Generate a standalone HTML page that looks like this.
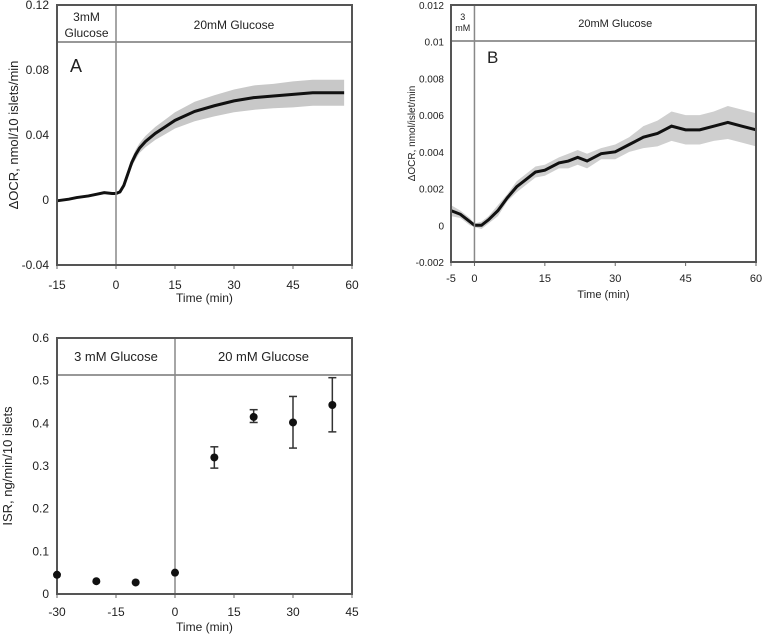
<!DOCTYPE html>
<html><head><meta charset="utf-8">
<style>
html,body{margin:0;padding:0;background:#fff;}
svg{display:block;font-family:"Liberation Sans",sans-serif;}
</style></head>
<body>
<svg id="fig" width="767" height="636" viewBox="0 0 767 636"></svg>
<script>
// Panel A data
const aTime = [-15,-12,-10,-7,-5,-3,-1,0,1,2,3,4,5,6,7.5,10,12.5,15,20,25,30,35,40,45,50,55,58];
const aMean = [-0.0005,0.0005,0.0015,0.0025,0.0035,0.0045,0.004,0.004,0.005,0.009,0.016,0.023,0.028,0.032,0.036,0.041,0.045,0.049,0.0545,0.058,0.061,0.063,0.064,0.065,0.066,0.066,0.066];
const aErr  = [0.0005,0.0005,0.0005,0.0005,0.0005,0.0005,0.0005,0.0005,0.001,0.0015,0.002,0.0025,0.003,0.003,0.0035,0.004,0.0045,0.005,0.006,0.0065,0.007,0.0075,0.0075,0.008,0.008,0.008,0.008];
const aYTicks = [0.12,0.08,0.04,0,-0.04];
const aYLabels = ["0.12","0.08","0.04","0","-0.04"];
const aXTicks = [-15,0,15,30,45,60];
// Panel B data
const bTime = [-5,-3,-1,0,1.5,3,5,7,9,11,13,15,18,20,22,24,27,30,33,36,39,42,45,48,51,54,57,60];
const bMean = [0.0008,0.0006,0.0002,0.0,0.0,0.0003,0.0008,0.0015,0.0021,0.0025,0.0029,0.003,0.0034,0.0035,0.0037,0.0035,0.0039,0.004,0.0044,0.0048,0.005,0.0054,0.0052,0.0052,0.0054,0.0056,0.0054,0.0052];
const bErr  = [0.0003,0.0002,0.0002,0.0001,0.0002,0.0002,0.0003,0.0002,0.0003,0.0003,0.0003,0.0003,0.0003,0.0004,0.0004,0.0004,0.0003,0.0004,0.0004,0.0006,0.0007,0.0008,0.0008,0.0008,0.0008,0.0009,0.0009,0.0009];
const bYTicks = [0.012,0.01,0.008,0.006,0.004,0.002,0,-0.002];
const bYLabels = ["0.012","0.01","0.008","0.006","0.004","0.002","0","-0.002"];
const bXTicks = [-5,0,15,30,45,60];
// Panel C data
const cTime = [-30,-20,-10,0,10,20,30,40];
const cMean = [0.045,0.03,0.027,0.05,0.32,0.415,0.402,0.443];
const cLow  = [0.045,0.03,0.027,0.05,0.295,0.402,0.342,0.38];
const cHigh = [0.045,0.03,0.027,0.05,0.345,0.432,0.463,0.507];
const cYTicks = [0.6,0.5,0.4,0.3,0.2,0.1,0];
const cYLabels = ["0.6","0.5","0.4","0.3","0.2","0.1","0"];
const cXTicks = [-30,-15,0,15,30,45];

const NS="http://www.w3.org/2000/svg";
const svg=document.getElementById('fig');
function mk(tag,attrs,parent){const e=document.createElementNS(NS,tag);for(const k in attrs)e.setAttribute(k,attrs[k]);(parent||svg).appendChild(e);return e;}
function txt(s,attrs,parent){const e=mk('text',attrs,parent);e.textContent=s;return e;}
function scale(d0,d1,r0,r1){return v=>r0+(v-d0)*(r1-r0)/(d1-d0);}

function panel(o){
  const g=mk('g',{});
  
  
  const x=scale(o.xd[0],o.xd[1],o.L,o.R), y=scale(o.yd[0],o.yd[1],o.B,o.T);
  o.yTicks.forEach((t,i)=>{
    const e=txt(o.yLabels[i],{x:o.L-(o.yLabOff||8),y:y(t)+4,'text-anchor':'end','font-size':o.yLabFs||o.fs,fill:'#222'},g);
    
    
  });
  o.xTicks.forEach(t=>{
    const e=txt(String(t),{x:x(t),y:o.xLabY,'text-anchor':'middle','font-size':o.fs,fill:'#222'},g);
    
    
    const tk=mk('line',{x1:x(t),x2:x(t),y1:o.B,y2:o.B+4,stroke:'#666','stroke-width':1},g);
    
    
  });
  const xt=txt('Time (min)',{x:(o.L+o.R)/2,y:o.xTitleY,'text-anchor':'middle','font-size':o.fs,fill:'#222'},g);
  
  
  const cy=(o.T+o.B)/2;
  const yt=txt(o.yTitle,{x:o.yTitleX,y:cy,'text-anchor':'middle','font-size':o.yfs,fill:'#222',transform:`rotate(-90 ${o.yTitleX} ${cy})`},g);
  
  
  return {g,x,y};
}
function frame(g,o,x){
  const hb=mk('line',{x1:o.L,x2:o.R,y1:o.H,y2:o.H,stroke:'#777','stroke-width':1.5},g);
  
  
  const v=mk('line',{x1:x(0),x2:x(0),y1:o.T,y2:o.B,stroke:'#888','stroke-width':1.5},g);
  
  
  const f=mk('rect',{x:o.L,y:o.T,width:o.R-o.L,height:o.B-o.T,fill:'none',stroke:'#555','stroke-width':2},g);
  
  
}

// ===== Panel A =====
{
const o={name:'panel-a',L:57,R:352,T:5,B:265,H:42,xd:[-15,60],yd:[-0.04,0.12],yTicks:aYTicks,yLabels:aYLabels,xTicks:aXTicks,xLabY:289,xTitleY:302,yTitle:'ΔOCR, nmol/10 islets/min',yTitleX:18,fs:12,yfs:13};
const {g,x,y}=panel(o);
let up=aTime.map((t,i)=>`${x(t)},${y(aMean[i]+aErr[i])}`), dn=aTime.map((t,i)=>`${x(t)},${y(aMean[i]-aErr[i])}`).reverse();
const band=mk('polygon',{points:up.concat(dn).join(' '),fill:'#c8c8c8'},g);


const ln=mk('polyline',{points:aTime.map((t,i)=>`${x(t)},${y(aMean[i])}`).join(' '),fill:'none',stroke:'#111','stroke-width':3},g);


frame(g,o,x);
const h1=txt('3mM',{x:(o.L+x(0))/2,y:21,'text-anchor':'middle','font-size':12,fill:'#222'},g);

const h1b=txt('Glucose',{x:(o.L+x(0))/2,y:37,'text-anchor':'middle','font-size':12,fill:'#222'},g);

const h2=txt('20mM Glucose',{x:(x(0)+o.R)/2,y:29,'text-anchor':'middle','font-size':12,fill:'#222'},g);

const lab=txt('A',{x:70,y:72,'font-size':18,fill:'#222'},g);

}

// ===== Panel B =====
{
const o={name:'panel-b',L:451,R:756,T:5,B:262,H:41,xd:[-5,60],yd:[-0.002,0.012],yTicks:bYTicks,yLabels:bYLabels,xTicks:bXTicks,xLabY:282,xTitleY:298,yTitle:'ΔOCR, nmol/islet/min',yTitleX:415,fs:11,yfs:10,yLabFs:10,yLabOff:7};
const {g,x,y}=panel(o);
let up=bTime.map((t,i)=>`${x(t)},${y(bMean[i]+bErr[i])}`), dn=bTime.map((t,i)=>`${x(t)},${y(bMean[i]-bErr[i])}`).reverse();
const band=mk('polygon',{points:up.concat(dn).join(' '),fill:'#cfcfcf'},g);


const ln=mk('polyline',{points:bTime.map((t,i)=>`${x(t)},${y(bMean[i])}`).join(' '),fill:'none',stroke:'#111','stroke-width':3},g);


frame(g,o,x);
const h1=txt('3',{x:(o.L+x(0))/2,y:20,'text-anchor':'middle','font-size':9,fill:'#222'},g);

const h1b=txt('mM',{x:(o.L+x(0))/2,y:31,'text-anchor':'middle','font-size':9,fill:'#222'},g);

const h2=txt('20mM Glucose',{x:(x(0)+o.R)/2,y:27,'text-anchor':'middle','font-size':11,fill:'#222'},g);

const lab=txt('B',{x:487,y:63,'font-size':17,fill:'#222'},g);

}

// ===== Panel C =====
{
const o={name:'panel-c',L:57,R:352,T:338,B:594,H:375,xd:[-30,45],yd:[0,0.6],yTicks:cYTicks,yLabels:cYLabels,xTicks:cXTicks,xLabY:616,xTitleY:631,yTitle:'ISR, ng/min/10 islets',yTitleX:12,fs:12,yfs:13};
const {g,x,y}=panel(o);
frame(g,o,x);
cTime.forEach((t,i)=>{
  if(cHigh[i]-cLow[i]>0.001){
    const eb=mk('g',{},g);
    
    
    mk('line',{x1:x(t),x2:x(t),y1:y(cLow[i]),y2:y(cHigh[i]),stroke:'#333','stroke-width':1.5},eb);
    mk('line',{x1:x(t)-4,x2:x(t)+4,y1:y(cLow[i]),y2:y(cLow[i]),stroke:'#333','stroke-width':1.5},eb);
    mk('line',{x1:x(t)-4,x2:x(t)+4,y1:y(cHigh[i]),y2:y(cHigh[i]),stroke:'#333','stroke-width':1.5},eb);
  }
  const p=mk('circle',{cx:x(t),cy:y(cMean[i]),r:4,fill:'#111'},g);
  
  
});
const h1=txt('3 mM Glucose',{x:(o.L+x(0))/2,y:361,'text-anchor':'middle','font-size':13,fill:'#222'},g);

const h2=txt('20 mM Glucose',{x:(x(0)+o.R)/2,y:361,'text-anchor':'middle','font-size':13,fill:'#222'},g);

}
</script>
</body></html>
